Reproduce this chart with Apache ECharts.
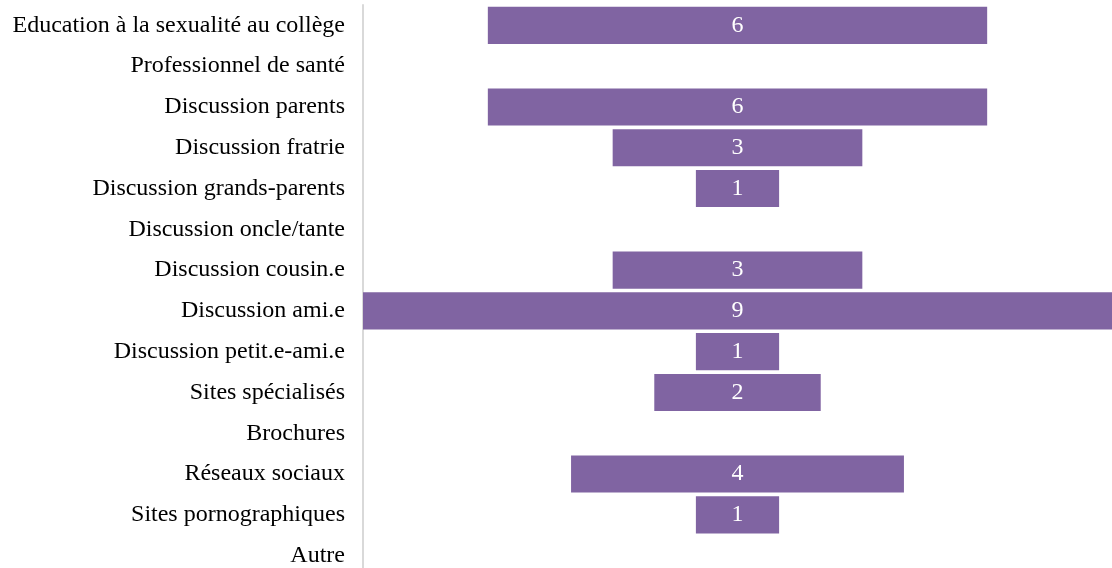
<!DOCTYPE html>
<html><head><meta charset="utf-8">
<script src="https://cdn.jsdelivr.net/npm/echarts@6/dist/echarts.min.js"></script>
<style>html,body{margin:0;padding:0;background:#fff}#c{width:1112px;height:568px}</style>
</head><body><div id="c"></div>
<script>
const categories = ['Education à la sexualité au collège','Professionnel de santé','Discussion parents','Discussion fratrie','Discussion grands-parents','Discussion oncle/tante','Discussion cousin.e','Discussion ami.e','Discussion petit.e-ami.e','Sites spécialisés','Brochures','Réseaux sociaux','Sites pornographiques','Autre'];
const values = [6,0,6,3,1,0,3,9,1,2,0,4,1,0];
const maxValue = 9;
const offsets = values.map(v => (maxValue - v) / 2);
const chart = echarts.init(document.getElementById('c'));
const font = '"Liberation Serif", "Times New Roman", serif';
chart.setOption({
  animation: false,
  grid: {left: 363, right: 0, top: 5, bottom: -8, outerBoundsMode: 'none', containLabel: false},
  xAxis: {type: 'value', min: 0, max: maxValue, show: false},
  yAxis: {
    type: 'category', data: categories, inverse: true,
    axisLine: {show: true, lineStyle: {color: '#d9d9d9', width: 2}},
    axisTick: {show: false},
    axisLabel: {color: '#000', fontFamily: font, fontSize: 24, margin: 18, padding: [4, 0, 0, 0]}
  },
  series: [
    {type: 'bar', stack: 'a', data: offsets, silent: true, itemStyle: {color: 'transparent'}, barCategoryGap: '9%'},
    {type: 'bar', stack: 'a', data: values, itemStyle: {color: '#8064A2'}, barCategoryGap: '9%',
     label: {show: true, position: 'inside', color: '#fff', fontFamily: font, fontSize: 24,
       formatter: p => p.value ? String(p.value) : ''}}
  ]
});
</script></body></html>
